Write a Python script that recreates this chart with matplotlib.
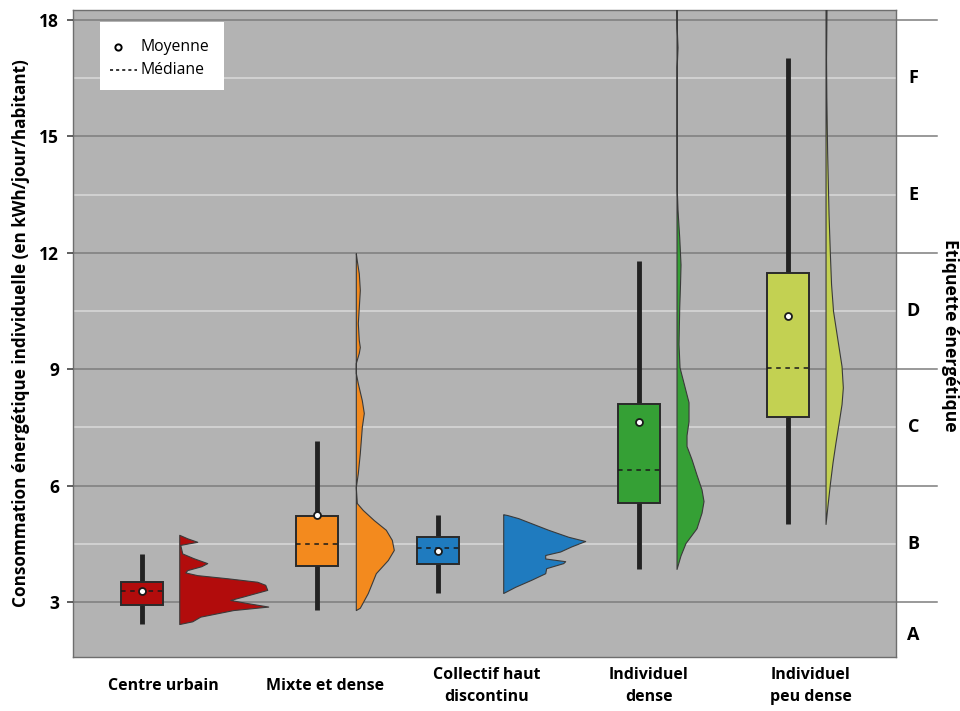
import numpy as np
import matplotlib
matplotlib.use("Agg")
import matplotlib.pyplot as plt

# ---------------- data ----------------
categories = ["Centre urbain", "Mixte et dense", "Collectif haut\ndiscontinu",
              "Individuel\ndense", "Individuel\npeu dense"]
whisker_low = [2.43, 2.79, 3.23, 3.85, 5.01]
q1 = [2.92, 3.93, 3.98, 5.56, 7.77]
median = [3.29, 4.49, 4.39, 6.40, 9.03]
q3 = [3.52, 5.22, 4.68, 8.09, 11.49]
mean = [3.29, 5.24, 4.31, 7.64, 10.36]
whisker_high = [4.24, 7.15, 5.24, 11.79, 17.03]

# violin density profiles (value levels, relative density)
v0_y = [2.43, 2.50, 2.62, 2.79, 2.88, 2.97, 3.05, 3.14, 3.31, 3.44, 3.52, 3.61, 3.69, 3.76,
        3.82, 3.92, 4.00, 4.13, 4.25, 4.47, 4.55, 4.64, 4.73]
v0_d = [0, 13, 21, 54, 89, 68, 51, 64, 88, 86, 78, 48, 18, 6,
        8, 22, 28, 14, 3, 1, 18, 8, 0]
v1_y = [2.79, 2.85, 3.23, 3.74, 4.08, 4.34, 4.60, 4.86, 5.11, 5.37, 5.55, 5.96, 6.32, 6.84,
        7.17, 7.51, 7.87, 8.20, 8.64, 8.90, 9.16, 9.42, 9.57, 9.75, 10.19, 10.60, 11.04,
        11.47, 11.80, 11.99]
v1_d = [0, 4, 12, 20, 32, 38, 36, 30, 18, 7, 1, 0, 2, 4,
        5, 6, 8, 6, 2, 0, 0, 3, 4, 3, 2, 3, 4,
        3, 1, 0]
v2_y = [3.23, 3.39, 3.57, 3.74, 3.87, 4.00, 4.05, 4.12, 4.21, 4.30, 4.43, 4.57, 4.68, 4.86,
        5.03, 5.16, 5.24, 5.26]
v2_d = [0, 12, 28, 42, 43, 60, 62, 42, 42, 57, 68, 82, 65, 45,
        28, 15, 4, 0]
v3_y = [3.85, 4.20, 4.52, 4.90, 5.30, 5.60, 5.90, 6.28, 6.68, 7.02, 7.30, 7.66, 8.15, 8.65,
        9.05, 9.65, 10.60, 11.20, 11.70, 12.40, 13.10, 13.60, 15.00, 16.80, 17.30, 17.80,
        18.40]
v3_d = [0, 4, 9, 20, 25, 27, 25, 20, 15, 10, 10, 12, 12, 7,
        3, 2, 2.7, 3.5, 4, 2.7, 1, 0.3, 0.2, 0.2, 1.0, 0.2, 0]
v4_y = [5.01, 5.50, 6.04, 6.60, 7.12, 7.60, 8.10, 8.53, 9.08, 9.83, 10.50, 11.20, 12.00,
        13.00, 14.60, 16.00, 17.00, 18.40]
v4_d = [0, 2, 4.3, 7, 10, 13, 16, 17.3, 16, 11.5, 7.5, 5.5, 4.3,
        3.0, 1.6, 0.8, 0.5, 1.0]
violin_y = [v0_y, v1_y, v2_y, v3_y, v4_y]
violin_d = [v0_d, v1_d, v2_d, v3_d, v4_d]

class_labels = ["A", "B", "C", "D", "E", "F"]
class_centers = [2.15, 4.5, 7.5, 10.5, 13.5, 16.5]
major_ticks = [3, 6, 9, 12, 15, 18]
minor_lines = [4.5, 7.5, 10.5, 13.5, 16.5]

colors = ["#b20c0c", "#f38a1e", "#1f7bbf", "#35a035", "#c3d152"]

# ---------------- layout ----------------
box_offset = [-0.13, -0.05, -0.30, -0.06, -0.14]
violin_offset = [0.10, 0.19, 0.10, 0.17, 0.09]
box_w = 0.26
dens_scale = 1 / 162.0

fig = plt.figure(figsize=(9.6, 7.11), dpi=100)
ax = fig.add_axes([73 / 960, 54 / 711, 823 / 960, 647 / 711])
ax.set_facecolor("#b3b3b3")
ax.set_xlim(-0.556, 4.525)
ax.set_ylim(1.58, 18.26)

FONT = "Open Sans"

# grid
for y in major_ticks:
    ax.axhline(y, xmin=0, xmax=1.05, color="#7d7d7d", lw=1.1, zorder=1, clip_on=False)
for y in minor_lines:
    ax.axhline(y, color="#dadada", lw=1.1, zorder=1)

pos = np.arange(len(categories))
for i, p in enumerate(pos):
    c = colors[i]
    bx = p + box_offset[i]
    ax.plot([bx, bx], [whisker_low[i], whisker_high[i]], color="#222222", lw=3.5,
            solid_capstyle="butt", zorder=3)
    rect = plt.Rectangle((bx - box_w / 2, q1[i]), box_w, q3[i] - q1[i],
                         facecolor=c, edgecolor="#2a2a2a", lw=1.4, zorder=4)
    ax.add_patch(rect)
    ax.plot([bx - box_w / 2, bx + box_w / 2], [median[i], median[i]], color="#1a1a1a",
            lw=1.1, ls=(0, (3, 3)), zorder=5)
    ax.plot([bx], [mean[i]], marker="o", ms=5, mfc="white", mec="#1a1a1a", mew=1.3,
            zorder=6)
    vx = p + violin_offset[i]
    yy = np.array(violin_y[i])
    dd = np.array(violin_d[i]) * dens_scale
    ax.fill_betweenx(yy, vx, vx + dd, facecolor=c, edgecolor="#3a3a3a", lw=0.8, zorder=3)

for s in ax.spines.values():
    s.set_color("#6e6e6e")
    s.set_linewidth(1.0)
ax.set_yticks(major_ticks)
ax.set_yticklabels([str(t) for t in major_ticks], fontfamily=FONT,
                   fontweight="bold", fontsize=12.5)
ax.tick_params(axis="y", length=4, width=1.2, color="#444444", pad=6)
ax.set_xticks([])

for i, p in enumerate(pos):
    ax.text(p, -0.0448, categories[i], transform=ax.get_xaxis_transform(),
            ha="center", va="center", fontfamily=FONT, fontweight="bold",
            fontsize=11.5, linespacing=1.5)

ax.set_ylabel("Consommation énergétique individuelle (en kWh/jour/habitant)",
              fontfamily=FONT, fontweight="bold", fontsize=12.3, labelpad=7)

for k, lab in enumerate(class_labels):
    ax.text(1.021, class_centers[k], lab, transform=ax.get_yaxis_transform(),
            ha="center", va="center", fontfamily=FONT, fontweight="bold", fontsize=13)
fig.text(950 / 960, 1 - 335 / 711, "Etiquette énergétique", rotation=270,
         ha="center", va="center", fontfamily=FONT, fontweight="bold", fontsize=12.6)

# legend (manual)
ax.add_patch(plt.Rectangle((0.0328, 0.8764), 0.1507, 0.1051, transform=ax.transAxes,
                           facecolor="white", edgecolor="none", zorder=10))
ax.plot([0.0547], [0.9428], transform=ax.transAxes, marker="o", ms=4.5, mfc="white",
        mec="black", mew=1.4, zorder=11, clip_on=False)
ax.plot([0.045, 0.0778], [0.9073, 0.9073], transform=ax.transAxes, color="black",
        lw=1.1, ls=(0, (2, 2)), zorder=11)
ax.text(0.0826, 0.9428, "Moyenne", transform=ax.transAxes, ha="left", va="center",
        fontfamily=FONT, fontsize=11.3, zorder=12)
ax.text(0.0826, 0.9073, "Médiane", transform=ax.transAxes, ha="left", va="center",
        fontfamily=FONT, fontsize=11.3, zorder=12)

fig.savefig("out.png", dpi=100)
